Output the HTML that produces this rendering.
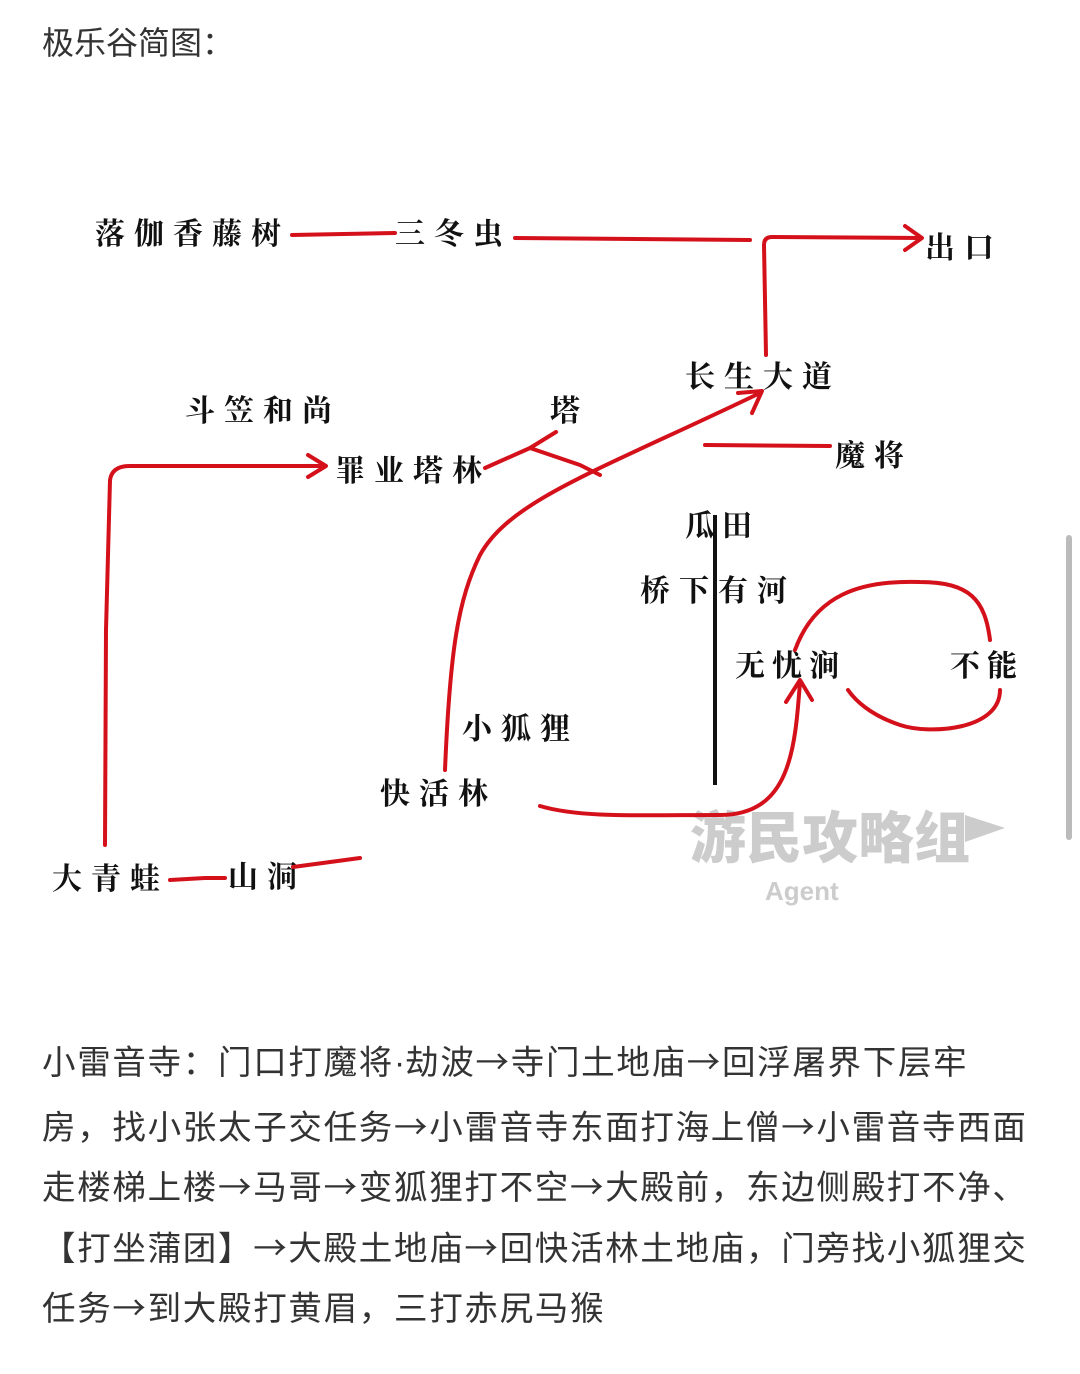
<!DOCTYPE html>
<html><head><meta charset="utf-8"><style>
body{margin:0;width:1080px;height:1374px;background:#fff;position:relative;overflow:hidden;font-family:"Noto Sans CJK SC",sans-serif;}
.t{position:absolute;left:42px;top:18px;font-size:32px;color:#333;}
.p{position:absolute;left:42px;top:1030px;width:1040px;font-size:33.5px;line-height:60.5px;color:#333;white-space:nowrap;letter-spacing:1.7px}
.d{font-family:"Liberation Sans",sans-serif;letter-spacing:0}
svg{position:absolute;left:0;top:0}
.sb{position:absolute;left:1066px;top:535px;width:6px;height:305px;background:#bbb;border-radius:3px}
</style></head><body>
<div class="t">极乐谷简图：</div>
<svg width="1080" height="1374" viewBox="0 0 1080 1374">
<g font-family="'Noto Serif CJK SC',serif" font-weight="bold" font-size="30" fill="#111">
<text x="95" y="244" letter-spacing="9">落伽香藤树</text>
<text x="395" y="244" letter-spacing="9">三冬虫</text>
<text x="925" y="258" letter-spacing="9">出口</text>
<text x="685" y="387" letter-spacing="9">长生大道</text>
<text x="185" y="421" letter-spacing="9">斗笠和尚</text>
<text x="550" y="421">塔</text>
<text x="335" y="481" letter-spacing="9">罪业塔林</text>
<text x="835" y="466" letter-spacing="9">魔将</text>
<text x="685" y="536" letter-spacing="7">瓜田</text>
<text x="640" y="601" letter-spacing="9">桥下有河</text>
<text x="735" y="676" letter-spacing="7">无忧涧</text>
<text x="950" y="676" letter-spacing="7">不能</text>
<text x="462" y="739" letter-spacing="9">小狐狸</text>
<text x="380" y="804" letter-spacing="9">快活林</text>
<text x="52" y="889" letter-spacing="9">大青蛙</text>
<text x="228" y="887" letter-spacing="9">山洞</text>
</g>
<g font-family="Liberation Sans,sans-serif" font-weight="bold" fill="#ccc">
<text x="690" y="858" font-size="56" font-family="'Noto Sans CJK SC',sans-serif" font-weight="900">游民攻略组</text>
<polygon points="965,815 1005,828 965,842" fill="#ccc"/>
<text x="765" y="900" font-size="26">Agent</text>
</g>
<g fill="none" stroke="#d4111b" stroke-width="4" stroke-linecap="round" stroke-linejoin="round">
<path d="M292,235 L395,233"/>
<path d="M515,238 L750,240"/>
<path d="M766,355 L764,245 Q764,237 772,237 L920,238"/>
<path d="M905,226 L922,238 L905,250"/>
<path d="M105,845 L106,630 L110,480 Q112,466 130,466 L325,466"/>
<path d="M308,455 L326,466 L308,477"/>
<path d="M485,468 L530,448 L556,432"/>
<path d="M530,448 L580,465 L600,475"/>
<path d="M445,770 C450,650 458,600 480,555 C510,500 600,470 760,393"/>
<path d="M738,393 L762,391 L752,413"/>
<path d="M705,445 L830,446"/>
<path d="M540,806 C580,818 640,815 720,815 C790,815 795,750 800,682"/>
<path d="M786,702 L800,680 L812,700"/>
<path d="M795,650 C815,595 860,580 920,582 C970,582 985,600 990,640"/>
<path d="M1000,690 C1000,730 930,735 900,725 C870,715 855,700 848,690"/>
<path d="M170,880 L205,878 L225,878"/>
<path d="M293,867 L360,858"/>
</g>
<path d="M715,515 L715,785" stroke="#111" stroke-width="4"/>
</svg>
<div class="sb"></div>
<div class="p">小雷音寺：门口打魔将<span class="d">·</span>劫波→寺门土地庙→回浮屠界下层牢<br>房，找小张太子交任务→小雷音寺东面打海上僧→小雷音寺西面<br>走楼梯上楼→马哥→变狐狸打不空→大殿前，东边侧殿打不净、<br>【打坐蒲团】→大殿土地庙→回快活林土地庙，门旁找小狐狸交<br>任务→到大殿打黄眉，三打赤尻马猴</div>
</body></html>
